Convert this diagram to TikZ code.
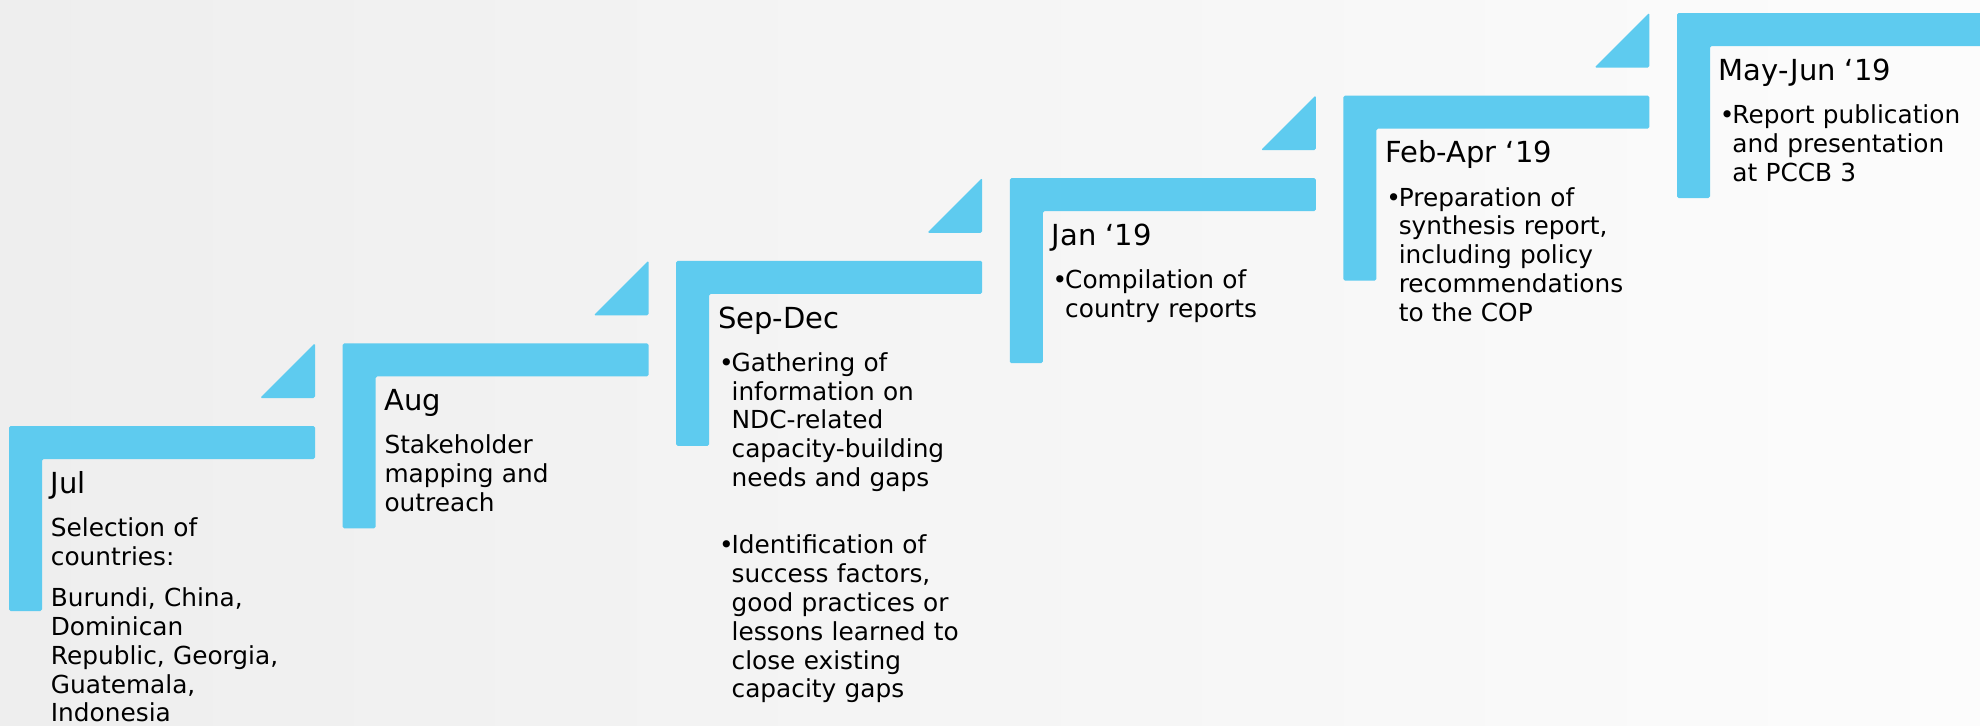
\documentclass[tikz,border=0pt]{standalone}
\usepackage{fontspec}
\setmainfont{DejaVu Sans}
\definecolor{stepblue}{HTML}{5ECBEF}
\definecolor{bgout}{HTML}{EEEEEE}
\definecolor{bgin}{HTML}{FCFCFC}
\newcommand{\bulitem}[1]{\leftskip=5.5pt\relax\leavevmode\hspace*{-5.5pt}\makebox[5.5pt][l]{\hspace{-0.06em}•}#1\par}
\begin{document}
\begin{tikzpicture}[x=0.5pt,y=-0.5pt,
  bracket/.style={fill=stepblue, rounded corners=0.8pt},
  head/.style={anchor=base west, inner sep=0pt, font=\fontsize{14.5}{17}\selectfont},
  body/.style={anchor=base west, inner sep=0pt, text width=165pt, align=left,
    font=\fontsize{12.4}{14.4}\selectfont}
]
\useasboundingbox (0,0) rectangle (1980,725);
% background
\shade[left color=bgout, right color=bgin] (0,0) rectangle (1980,725);
% step brackets and triangles
\foreach \i in {0,...,5}{
  \pgfmathsetmacro\L{9+333.6*\i}
  \pgfmathsetmacro\T{426-82.6*\i}
  \fill[bracket] (\L,\T) -- ++(306,0) -- ++(0,33) -- ++(-273,0) -- ++(0,152) -- ++(-33,0) -- cycle;
  \fill[bracket] (\L+306,\T-83) -- ++(0,55) -- ++(-55,0) -- cycle;
}
% step 1
\node[head] (h1) at (50.5,493.3) {Jul};
\node[body] (b1a) at (50.5,536.5) {Selection of\\countries:};
\node[body] (b1b) at (50.5,606.7) {Burundi, China,\\Dominican\\Republic, Georgia,\\Guatemala,\\Indonesia};
% step 2
\node[head] (h2) at (384.1,410.7) {Aug};
\node[body] (b2) at (384.1,453.9) {Stakeholder\\mapping and\\outreach};
% step 3
\node[head] (h3) at (717.7,328.1) {Sep-Dec};
\node[body] (b3a) at (720.2,371.3) {\bulitem{Gathering of\\information on\\NDC-related\\capacity-building\\needs and gaps}};
\node[body] (b3b) at (720.2,553.8) {\bulitem{Identification of\\success factors,\\good practices or\\lessons learned to\\close existing\\capacity gaps}};
% step 4
\node[head] (h4) at (1051.3,245.5) {Jan ‘19};
\node[body] (b4) at (1053.8,288.7) {\bulitem{Compilation of\\country reports}};
% step 5
\node[head] (h5) at (1384.9,162.9) {Feb-Apr ‘19};
\node[body] (b5) at (1387.4,206.1) {\bulitem{Preparation of\\synthesis report,\\including policy\\recommendations\\to the COP}};
% step 6
\node[head] (h6) at (1718.5,80.3) {May-Jun ‘19};
\node[body] (b6) at (1721,123.5) {\bulitem{Report publication\\and presentation\\at PCCB 3}};
\end{tikzpicture}
\end{document}
